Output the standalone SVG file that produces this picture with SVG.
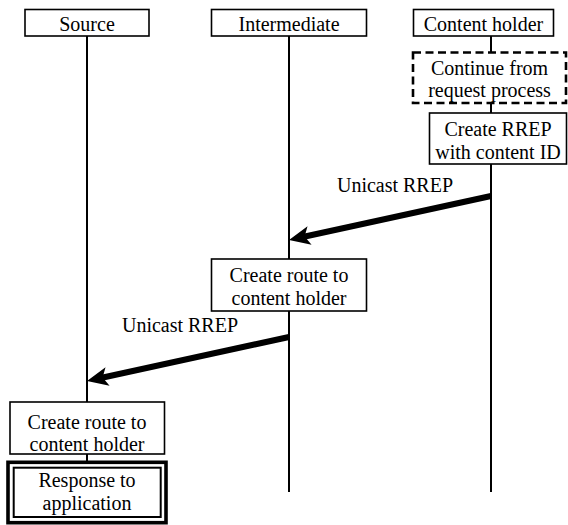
<svg xmlns="http://www.w3.org/2000/svg" width="568" height="525" viewBox="0 0 568 525">
  <style>
    .box { fill: #fff; stroke: #000; stroke-width: 1.6; }
    .dash { fill: #fff; stroke: #000; stroke-width: 2.6; stroke-dasharray: 8 4.5; }
    .life { stroke: #000; stroke-width: 2; fill: none; }
    .msg { stroke: #000; stroke-width: 6; fill: none; marker-end: url(#head); }
    .t { font-size: 20px; fill: #000; text-anchor: middle; }
  </style>
  <defs>
    <marker id="head" markerUnits="userSpaceOnUse" markerWidth="40" markerHeight="40" refX="0" refY="0" orient="auto" overflow="visible">
      <path d="M14,0 L-7,-9.5 L-2,0 L-7,9.5 Z" fill="#000"/>
    </marker>
  </defs>
  <rect width="568" height="525" fill="#fff"/>

  <g font-family="Liberation Serif, Times New Roman, Times, DejaVu Serif, serif">
  <!-- lifelines and messages -->
  <g id="connectors">
    <line class="life" x1="87" y1="36" x2="87" y2="402"/>
    <line class="life" x1="87" y1="454" x2="87" y2="461"/>
    <line class="life" x1="289" y1="36" x2="289" y2="259"/>
    <line class="life" x1="289" y1="311" x2="289" y2="492"/>
    <line class="life" x1="491" y1="36" x2="491" y2="52"/>
    <line class="life" x1="491" y1="103" x2="491" y2="113"/>
    <line class="life" x1="491" y1="164" x2="491" y2="492"/>
    <line class="msg" x1="491" y1="196" x2="302.7" y2="237"/>
    <line class="msg" x1="289" y1="337" x2="100.7" y2="378"/>
    <text class="t" x="395" y="192">Unicast RREP</text>
    <text class="t" x="180" y="332">Unicast RREP</text>
  </g>

  <!-- participants -->
  <g id="source">
    <rect class="box" x="25" y="9.5" width="124" height="26.5"/>
    <text class="t" x="87" y="30.5">Source</text>
  </g>
  <g id="intermediate">
    <rect class="box" x="211.5" y="9.5" width="155" height="26.5"/>
    <text class="t" x="289" y="30.5">Intermediate</text>
  </g>
  <g id="content-holder">
    <rect class="box" x="413.5" y="9.5" width="140" height="26.5"/>
    <text class="t" x="483.5" y="30.5">Content holder</text>
  </g>

  <!-- steps -->
  <g id="continue-request">
    <rect class="dash" x="413" y="52.5" width="153" height="50.5"/>
    <text class="t" x="489.5" y="74.5">Continue from</text>
    <text class="t" x="489.5" y="97">request process</text>
  </g>
  <g id="create-rrep">
    <rect class="box" x="429.5" y="113" width="137" height="51"/>
    <text class="t" x="498" y="135.5">Create RREP</text>
    <text class="t" x="498" y="159">with content ID</text>
  </g>
  <g id="route-intermediate">
    <rect class="box" x="211.5" y="259" width="155" height="52"/>
    <text class="t" x="289" y="281.5">Create route to</text>
    <text class="t" x="289" y="304.5">content holder</text>
  </g>
  <g id="route-source">
    <rect class="box" x="10" y="402" width="154.5" height="52"/>
    <text class="t" x="87" y="428.5">Create route to</text>
    <text class="t" x="87" y="451">content holder</text>
  </g>
  <g id="response">
    <rect x="8" y="462.3" width="158" height="60.4" fill="#fff" stroke="#000" stroke-width="3.6"/>
    <rect x="13.7" y="467.7" width="147" height="49.3" fill="none" stroke="#000" stroke-width="2"/>
    <text class="t" x="87" y="487">Response to</text>
    <text class="t" x="87" y="510">application</text>
  </g>
  </g>
</svg>
